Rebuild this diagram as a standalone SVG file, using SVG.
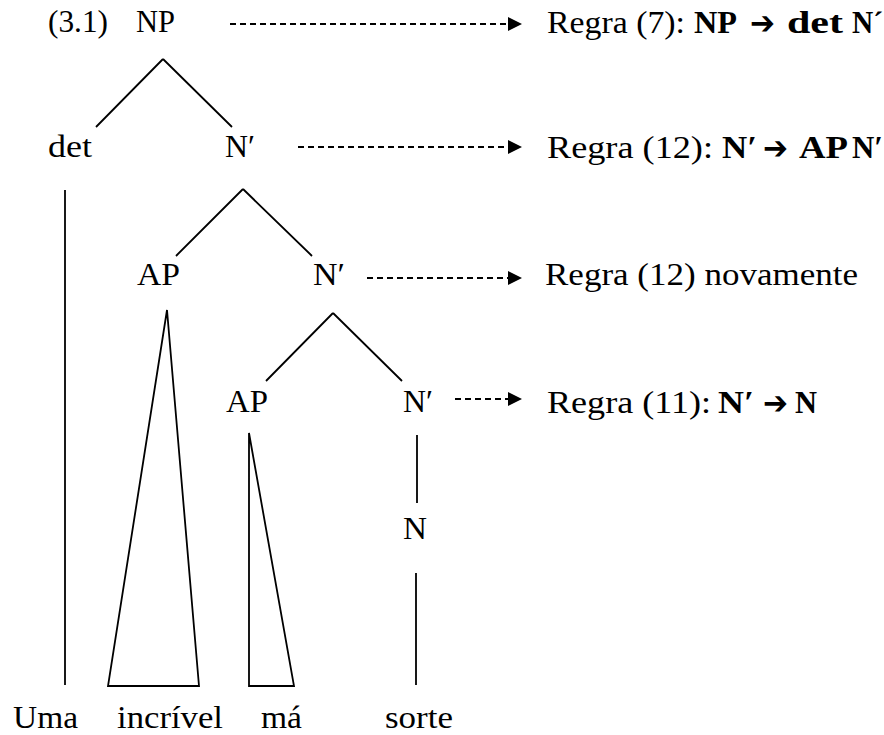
<svg xmlns="http://www.w3.org/2000/svg" width="884" height="735" viewBox="0 0 884 735">
<defs>
<style>
text{font-family:"Liberation Serif","Times New Roman",serif;font-size:31px;fill:#000}
.b{font-weight:bold}
.ar{font-family:"DejaVu Sans",sans-serif;font-weight:bold;font-size:32px}
.edge{stroke:#000;stroke-width:1.8;fill:none}
.dash{stroke:#000;stroke-width:1.8;fill:none;stroke-dasharray:6 4}
</style>
<marker id="ah" viewBox="0 0 14 14" refX="0" refY="7" markerWidth="14" markerHeight="14" markerUnits="userSpaceOnUse" orient="auto">
<path d="M0,0 L14,7 L0,14 Z" fill="#000"/>
</marker>
</defs>
<rect width="884" height="735" fill="#fff"/>

<g id="connectors">
<path class="edge" d="M163,59 L96,127 M163,59 L232,127"/>
<path class="edge" d="M243,189 L176,256 M243,189 L312,256"/>
<path class="edge" d="M333,313 L266,381 M333,313 L402,381"/>
<path class="edge" d="M65,190 L65,685"/>
<polygon class="edge" points="167,310 108,686 199,686"/>
<polygon class="edge" points="249,433 249,686 294,686"/>
<path class="edge" d="M417,435 L417,503 M416,573 L416,685"/>
<path class="dash" d="M230,24 L508,24" marker-end="url(#ah)"/>
<path class="dash" d="M298,147 L508,147" marker-end="url(#ah)"/>
<path class="dash" d="M367,278 L508,278" marker-end="url(#ah)"/>
<path class="dash" d="M455,399 L508,399" marker-end="url(#ah)"/>
</g>

<g id="label-3-1"><text x="48" y="32" textLength="60" lengthAdjust="spacingAndGlyphs">(3.1)</text></g>
<g id="node-NP"><text x="136" y="32" textLength="39" lengthAdjust="spacingAndGlyphs">NP</text></g>
<g id="node-det"><text x="48" y="157" textLength="44" lengthAdjust="spacingAndGlyphs">det</text></g>
<g id="node-N1"><text x="225" y="157" textLength="30" lengthAdjust="spacingAndGlyphs">N′</text></g>
<g id="node-AP1"><text x="137" y="285" textLength="43" lengthAdjust="spacingAndGlyphs">AP</text></g>
<g id="node-N2"><text x="313" y="285" textLength="32" lengthAdjust="spacingAndGlyphs">N′</text></g>
<g id="node-AP2"><text x="226" y="412" textLength="42" lengthAdjust="spacingAndGlyphs">AP</text></g>
<g id="node-N3"><text x="403" y="412" textLength="30" lengthAdjust="spacingAndGlyphs">N′</text></g>
<g id="node-N"><text x="403" y="539" textLength="24" lengthAdjust="spacingAndGlyphs">N</text></g>
<g id="word-uma"><text x="13" y="728" textLength="65" lengthAdjust="spacingAndGlyphs">Uma</text></g>
<g id="word-incrivel"><text x="117" y="728" textLength="106" lengthAdjust="spacingAndGlyphs">incrível</text></g>
<g id="word-ma"><text x="261" y="728" textLength="41" lengthAdjust="spacingAndGlyphs">má</text></g>
<g id="word-sorte"><text x="385" y="728" textLength="68" lengthAdjust="spacingAndGlyphs">sorte</text></g>

<g id="rule-1">
<text x="547" y="33" textLength="138" lengthAdjust="spacingAndGlyphs">Regra (7):</text>
<text class="b" x="694" y="33" textLength="43" lengthAdjust="spacingAndGlyphs">NP</text>
<text class="ar" x="750" y="34" textLength="25" lengthAdjust="spacingAndGlyphs">➔</text>
<text class="b" x="787" y="33" textLength="56" lengthAdjust="spacingAndGlyphs">det</text>
<text class="b" x="852" y="33" textLength="31" lengthAdjust="spacingAndGlyphs">N´</text>
</g>
<g id="rule-2">
<text x="547" y="158" textLength="166" lengthAdjust="spacingAndGlyphs">Regra (12):</text>
<text class="b" x="722" y="158" textLength="35" lengthAdjust="spacingAndGlyphs">N′</text>
<text class="ar" x="763" y="159" textLength="25" lengthAdjust="spacingAndGlyphs">➔</text>
<text class="b" x="799" y="158" textLength="49" lengthAdjust="spacingAndGlyphs">AP</text>
<text class="b" x="852" y="158" textLength="31" lengthAdjust="spacingAndGlyphs">N′</text>
</g>
<g id="rule-3">
<text x="545" y="285" textLength="313" lengthAdjust="spacingAndGlyphs">Regra (12) novamente</text>
</g>
<g id="rule-4">
<text x="547" y="413" textLength="164" lengthAdjust="spacingAndGlyphs">Regra (11):</text>
<text class="b" x="718" y="413" textLength="36" lengthAdjust="spacingAndGlyphs">N′</text>
<text class="ar" x="763" y="414" textLength="25" lengthAdjust="spacingAndGlyphs">➔</text>
<text class="b" x="795" y="413" textLength="22" lengthAdjust="spacingAndGlyphs">N</text>
</g>
</svg>
